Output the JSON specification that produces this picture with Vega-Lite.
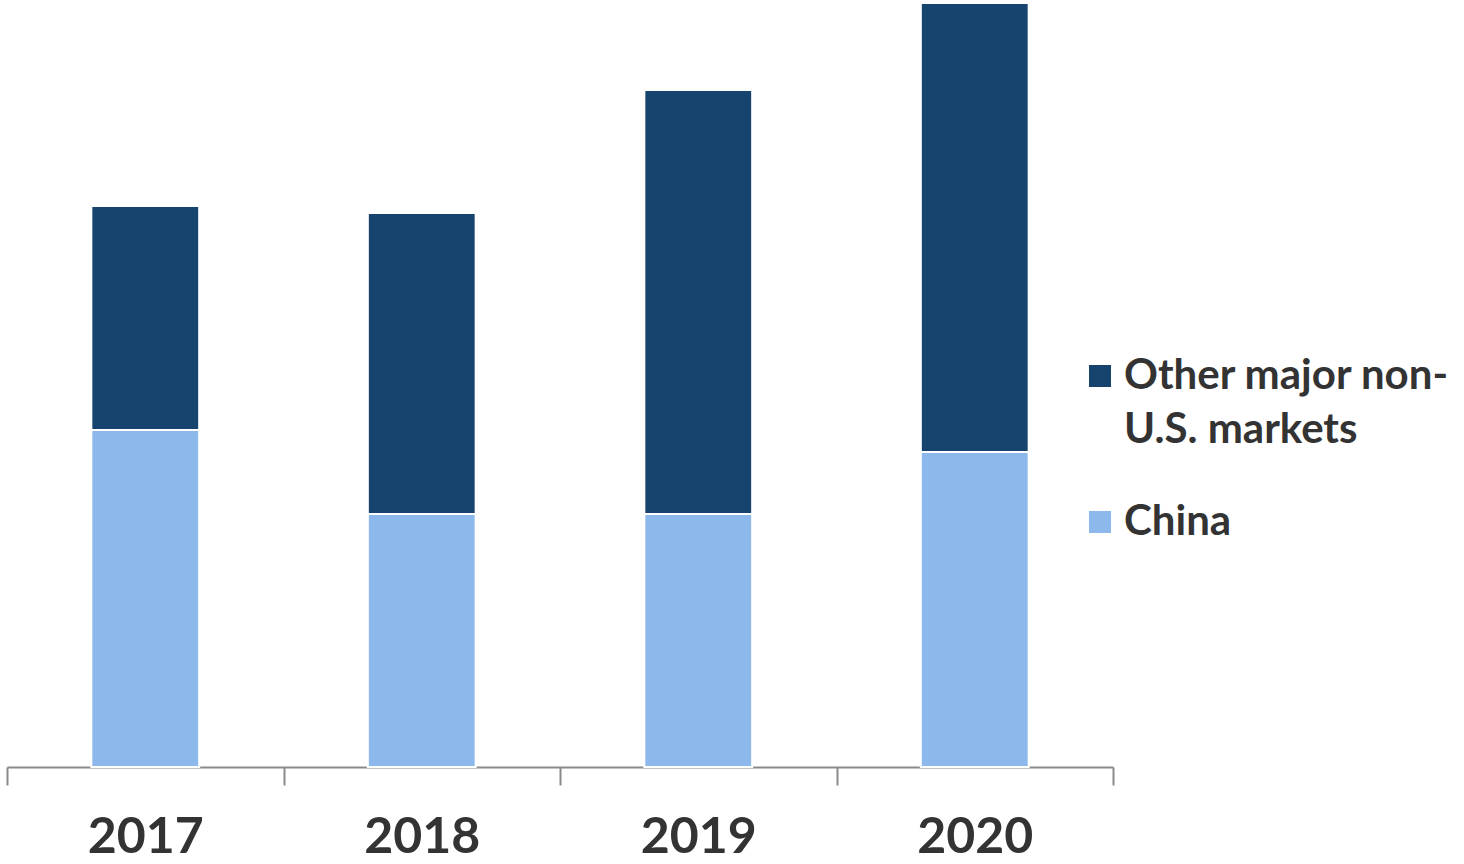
{
  "$schema": "https://vega.github.io/schema/vega-lite/v6.json",
  "autosize": {"type": "none"},
  "padding": {"left": 7, "top": 3, "right": 351, "bottom": 97},
  "width": 1106,
  "height": 764,
  "background": "white",
  "config": {
    "view": {"stroke": null},
    "font": "Lato",
    "style": {"guide-label": {"lineHeight": 54}}
  },
  "data": {
    "values": [
      {"year": "2017", "series": "China", "value": 3.37},
      {"year": "2017", "series": "Other major non-U.S. markets", "value": 2.24},
      {"year": "2018", "series": "China", "value": 2.53},
      {"year": "2018", "series": "Other major non-U.S. markets", "value": 3.01},
      {"year": "2019", "series": "China", "value": 2.53},
      {"year": "2019", "series": "Other major non-U.S. markets", "value": 4.24},
      {"year": "2020", "series": "China", "value": 3.15},
      {"year": "2020", "series": "Other major non-U.S. markets", "value": 4.49}
    ]
  },
  "mark": {"type": "bar", "stroke": "white", "strokeWidth": 2, "width": {"band": 0.39}},
  "encoding": {
    "x": {
      "field": "year",
      "type": "nominal",
      "title": null,
      "scale": {"paddingInner": 0, "paddingOuter": 0},
      "axis": {
        "labelAngle": 0,
        "labelFont": "Lato",
        "labelFontSize": 50,
        "labelFontWeight": "bold",
        "labelColor": "#333333",
        "labelPadding": 27,
        "domainColor": "#8a8a8a",
        "domainWidth": 2,
        "tickColor": "#8a8a8a",
        "tickWidth": 2,
        "tickSize": 18,
        "tickBand": "extent",
        "grid": false
      }
    },
    "y": {
      "field": "value",
      "type": "quantitative",
      "stack": "zero",
      "scale": {"domain": [0, 7.64], "nice": false, "zero": true},
      "axis": null
    },
    "color": {
      "field": "series",
      "type": "nominal",
      "scale": {
        "domain": ["Other major non-U.S. markets", "China"],
        "range": ["#17446e", "#8cb8ec"]
      },
      "legend": {
        "title": null,
        "orient": "none",
        "legendX": 1072,
        "legendY": 352,
        "padding": 0,
        "symbolType": "square",
        "symbolSize": 484,
        "symbolStrokeWidth": 0,
        "symbolOpacity": 1,
        "labelFont": "Lato",
        "labelFontSize": 42,
        "labelFontWeight": "bold",
        "labelColor": "#333333",
        "labelOffset": 3,
        "labelLimit": 400,
        "labelBaseline": "middle",
        "labelExpr": "datum.label == 'Other major non-U.S. markets' ? ['Other major non-', 'U.S. markets'] : datum.label",
        "rowPadding": 50
      }
    },
    "order": {"field": "series", "sort": "ascending"}
  }
}
